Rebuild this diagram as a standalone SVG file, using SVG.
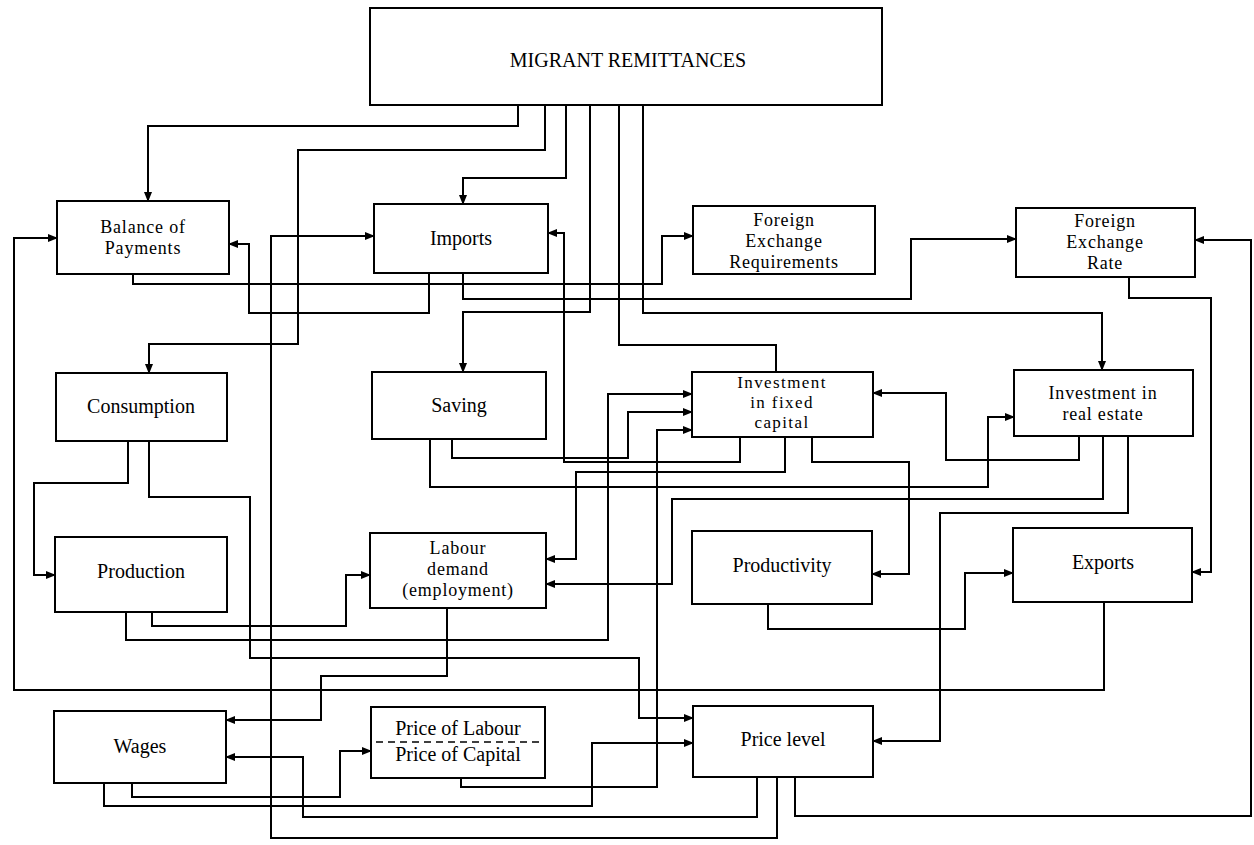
<svg xmlns="http://www.w3.org/2000/svg" width="1254" height="845" viewBox="0 0 1254 845">
<style>
.box{fill:#fff;stroke:#000;stroke-width:2}
.t{font-family:"Liberation Serif","Times New Roman",serif;font-size:20px;fill:#000;text-anchor:middle}
.m{font-size:18px;letter-spacing:0.8px}
.s{font-size:17px;letter-spacing:1.4px}
.c path{fill:none;stroke:#000;stroke-width:2;stroke-linejoin:miter}
.c .a{marker-end:url(#ah)}
</style>
<defs>
<marker id="ah" markerWidth="10" markerHeight="8" refX="9" refY="4" orient="auto" markerUnits="userSpaceOnUse">
<path d="M0,0 L10,4 L0,8 z" fill="#000"/>
</marker>
</defs>
<rect width="1254" height="845" fill="#fff"/>
<g id="connectors" class="c">
<path class="a" d="M518,105 V126 H148 V201"/>
<path class="a" d="M545,105 V150 H298 V344 H149 V373"/>
<path class="a" d="M566,105 V178 H463 V204"/>
<path class="a" d="M590,105 V312 H463 V372"/>
<path d="M619,105 V345 H776 V372"/>
<path class="a" d="M643,105 V313 H1102 V370"/>
<path class="a" d="M133,274 V284 H662 V236 H693"/>
<path class="a" d="M463,273 V299 H911 V239 H1016"/>
<path class="a" d="M429,273 V313 H249 V244 H229"/>
<path class="a" d="M777,777 V838 H271 V236 H374"/>
<path class="a" d="M740,437 V462 H564 V233 H548"/>
<path class="a" d="M452,439 V458 H628 V412 H692"/>
<path class="a" d="M430,439 V487 H988 V417 H1014"/>
<path class="a" d="M1103,436 V499 H672 V584 H546"/>
<path class="a" d="M785,437 V472 H576 V559 H546"/>
<path class="a" d="M812,437 V462 H909 V574 H872"/>
<path class="a" d="M1079,436 V460 H946 V393 H873"/>
<path class="a" d="M1128,436 V513 H940 V741 H873"/>
<path class="a" d="M768,604 V629 H965 V573 H1013"/>
<path class="a" d="M1129,277 V298 H1211 V572 H1192"/>
<path class="a" d="M795,777 V816 H1251 V240 H1195"/>
<path class="a" d="M1104,602 V690 H14 V238 H57"/>
<path class="a" d="M128,441 V483 H34 V575 H55"/>
<path class="a" d="M149,441 V497 H250 V658 H639 V718 H693"/>
<path class="a" d="M152,612 V626 H346 V575 H370"/>
<path class="a" d="M126,612 V640 H608 V394 H692"/>
<path class="a" d="M461,778 V787 H657 V430 H692"/>
<path class="a" d="M447,608 V676 H321 V720 H226"/>
<path class="a" d="M757,777 V817 H303 V757 H226"/>
<path class="a" d="M132,783 V797 H340 V751 H371"/>
<path class="a" d="M104,783 V806 H592 V743 H693"/>
</g>
<g id="migrant-remittances"><rect class="box" x="370" y="8" width="512" height="97"/><text class="t" x="628" y="67">MIGRANT REMITTANCES</text></g>
<g id="balance-of-payments"><rect class="box" x="57" y="201" width="172" height="73"/><text class="t m" x="143" y="233">Balance of</text><text class="t m" x="143" y="254">Payments</text></g>
<g id="imports"><rect class="box" x="374" y="204" width="174" height="69"/><text class="t" x="461" y="245">Imports</text></g>
<g id="fx-requirements"><rect class="box" x="693" y="206" width="182" height="68"/><text class="t m" x="784" y="226">Foreign</text><text class="t m" x="784" y="247">Exchange</text><text class="t m" x="784" y="268">Requirements</text></g>
<g id="fx-rate"><rect class="box" x="1016" y="208" width="179" height="69"/><text class="t m" x="1105" y="227">Foreign</text><text class="t m" x="1105" y="248">Exchange</text><text class="t m" x="1105" y="269">Rate</text></g>
<g id="consumption"><rect class="box" x="56" y="373" width="171" height="68"/><text class="t" x="141" y="413">Consumption</text></g>
<g id="saving"><rect class="box" x="372" y="372" width="174" height="67"/><text class="t" x="459" y="412">Saving</text></g>
<g id="investment-fixed"><rect class="box" x="692" y="372" width="181" height="65"/><text class="t s" x="782" y="388">Investment</text><text class="t s" x="782" y="408">in fixed</text><text class="t s" x="782" y="428">capital</text></g>
<g id="investment-real-estate"><rect class="box" x="1014" y="370" width="179" height="66"/><text class="t m" x="1103" y="399">Investment in</text><text class="t m" x="1103" y="420">real estate</text></g>
<g id="production"><rect class="box" x="55" y="537" width="172" height="75"/><text class="t" x="141" y="578">Production</text></g>
<g id="labour-demand"><rect class="box" x="370" y="533" width="176" height="75"/><text class="t m" x="458" y="554">Labour</text><text class="t m" x="458" y="575">demand</text><text class="t m" x="458" y="596">(employment)</text></g>
<g id="productivity"><rect class="box" x="692" y="531" width="180" height="73"/><text class="t" x="782" y="572">Productivity</text></g>
<g id="exports"><rect class="box" x="1013" y="528" width="179" height="74"/><text class="t" x="1103" y="569">Exports</text></g>
<g id="wages"><rect class="box" x="54" y="711" width="172" height="72"/><text class="t" x="140" y="753">Wages</text></g>
<g id="price-ratio"><rect class="box" x="371" y="707" width="174" height="71"/><line x1="376" y1="742" x2="541" y2="742" stroke="#000" stroke-width="1.5" stroke-dasharray="7,5"/><text class="t" x="458" y="735">Price of Labour</text><text class="t" x="458" y="761">Price of Capital</text></g>
<g id="price-level"><rect class="box" x="693" y="706" width="180" height="71"/><text class="t" x="783" y="746">Price level</text></g>
</svg>
